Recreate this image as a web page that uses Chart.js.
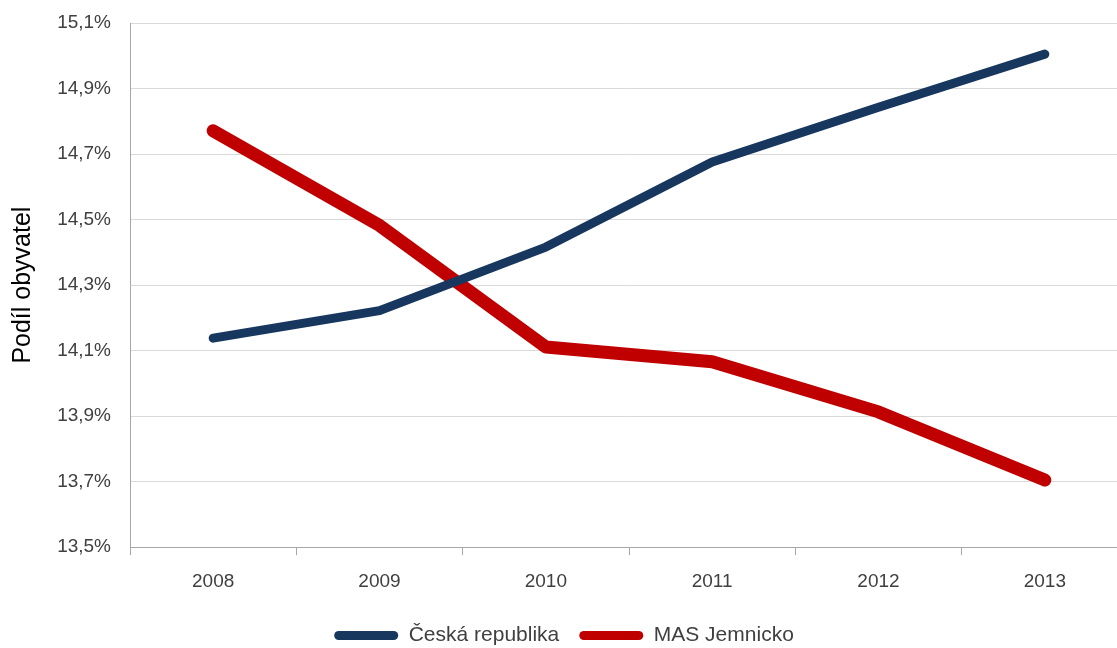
<!DOCTYPE html>
<html>
<head>
<meta charset="utf-8">
<script src="https://cdn.jsdelivr.net/npm/chart.js@4/dist/chart.umd.min.js"></script>
<style>
  html, body { margin: 0; padding: 0; background: #fff; overflow: hidden; }
  #wrap { width: 1130px; height: 648px; position: relative; }
</style>
</head>
<body>
<div id="wrap"><canvas id="chart"></canvas></div>
<script>
const years = ["2008", "2009", "2010", "2011", "2012", "2013"];
const ceskaRepublika = [14.138, 14.222, 14.416, 14.676, 14.843, 15.005];
const masJemnicko = [14.771, 14.482, 14.111, 14.066, 13.913, 13.705];
const yMin = 13.5;
const yMax = 15.1;
const yStep = 0.2;

const fontFamily = "'Liberation Sans', 'DejaVu Sans', sans-serif";

// percent with czech decimal comma
function fmt(v) {
  return v.toFixed(1).replace(".", ",") + "%";
}

const ctx = document.getElementById("chart");
new Chart(ctx, {
  type: "line",
  data: {
    labels: years,
    datasets: [
      {
        label: "Česká republika",
        data: ceskaRepublika,
        borderColor: "#17375e",
        backgroundColor: "#17375e",
        borderWidth: 9,
        borderCapStyle: "round",
        borderJoinStyle: "round",
        pointRadius: 0,
        tension: 0,
      },
      {
        label: "MAS Jemnicko",
        data: masJemnicko,
        borderColor: "#c00000",
        backgroundColor: "#c00000",
        borderWidth: 13,
        borderCapStyle: "round",
        borderJoinStyle: "round",
        pointRadius: 0,
        tension: 0,
      },
    ],
  },
  options: {
    responsive: true,
    maintainAspectRatio: false,
    animation: false,
    layout: {
      padding: { top: 23, right: 2, left: 0, bottom: -8 },
    },
    scales: {
      x: {
        offset: true,
        afterFit: (scale) => {
          scale.height -= 3;
        },
        grid: {
          offset: true,
          drawOnChartArea: false,
          drawTicks: true,
          tickLength: 8,
          color: "#a6a6a6",
        },
        border: { color: "#a6a6a6", width: 1 },
        ticks: {
          color: "#404040",
          font: { family: fontFamily, size: 19 },
          padding: 15,
        },
      },
      y: {
        min: yMin,
        max: yMax,
        afterFit: (scale) => {
          scale.width = 130;
          // let the layout padding alone decide where the plot starts
          scale.paddingTop = 0;
          scale.paddingBottom = 0;
        },
        ticks: {
          stepSize: yStep,
          color: "#404040",
          font: { family: fontFamily, size: 19 },
          padding: 19,
          callback: (v) => fmt(v),
        },
        grid: {
          color: "#d9d9d9",
          drawTicks: false,
        },
        border: { color: "#a6a6a6", width: 1 },
        title: {
          display: true,
          text: "Podíl obyvatel",
          color: "#000",
          font: { family: fontFamily, size: 25 },
          padding: { top: 8, bottom: 0 },
        },
      },
    },
    plugins: {
      tooltip: { enabled: false },
      legend: {
        position: "bottom",
        labels: {
          color: "#404040",
          font: { family: fontFamily, size: 21 },
          boxWidth: 64,
          boxHeight: 9,
          useBorderRadius: true,
          borderRadius: 4.5,
          padding: 20,
          generateLabels: (chart) => {
            const items = Chart.defaults.plugins.legend.labels.generateLabels(chart);
            items.forEach((it) => {
              it.lineWidth = 0;
              it.strokeStyle = "transparent";
            });
            return items;
          },
        },
      },
    },
  },
});
</script>
</body>
</html>
